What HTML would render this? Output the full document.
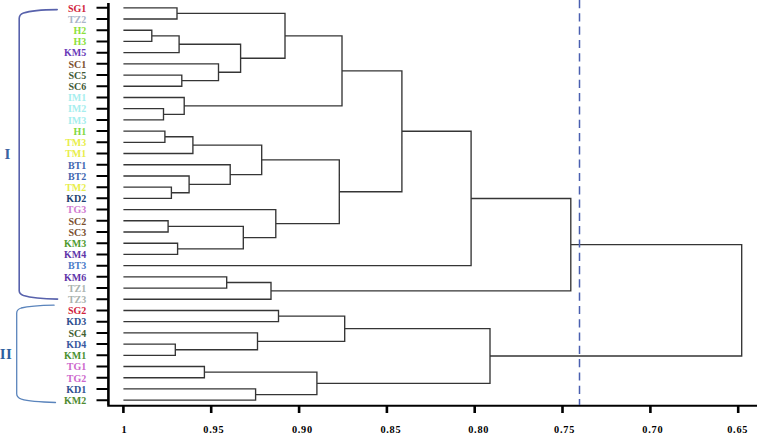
<!DOCTYPE html>
<html><head><meta charset="utf-8"><style>
html,body{margin:0;padding:0;background:#fff;}
body{width:759px;height:434px;overflow:hidden;position:relative;}
svg{position:absolute;left:0;top:0;}
.lab text{font-family:"Liberation Serif",serif;font-weight:bold;font-size:10px;text-anchor:end;}
.xl text{font-family:"Liberation Serif",serif;font-weight:bold;font-size:10.3px;letter-spacing:0.75px;fill:#000;}
.grp{font-family:"Liberation Serif",serif;font-weight:bold;font-size:15px;}
</style></head><body>
<svg width="759" height="434" viewBox="0 0 759 434">
<path d="M123.4 7.80H177.0V19.01H123.4M123.4 30.22H151.8V41.43H123.4M151.8 35.83H179.1V52.64H123.4M123.4 75.06H181.8V86.27H123.4M123.4 63.85H218.5V80.66H181.8M179.1 44.23H240.6V72.26H218.5M177.0 13.41H285.0V58.24H240.6M123.4 108.69H163.5V119.90H123.4M123.4 97.48H184.2V114.30H163.5M285.0 35.83H342.0V105.89H184.2M123.4 131.11H164.9V142.32H123.4M164.9 136.72H192.9V153.53H123.4M123.4 187.16H171.4V198.37H123.4M123.4 175.95H189.1V192.77H171.4M123.4 164.74H230.2V184.36H189.1M192.9 145.12H261.7V174.55H230.2M123.4 220.79H168.1V232.00H123.4M123.4 243.21H177.6V254.42H123.4M168.1 226.40H243.3V248.82H177.6M123.4 209.58H275.8V237.61H243.3M261.7 159.84H339.3V223.59H275.8M342.0 70.86H401.9V191.71H339.3M401.9 131.29H471.1V265.63H123.4M123.4 276.84H226.7V288.05H123.4M226.7 282.45H271.0V299.26H123.4M471.1 198.46H570.8V290.85H271.0M123.4 310.47H278.5V321.68H123.4M123.4 344.10H175.3V355.31H123.4M123.4 332.89H257.5V349.71H175.3M278.5 316.08H344.7V341.30H257.5M123.4 366.52H204.4V377.73H123.4M123.4 388.94H255.6V400.15H123.4M204.4 372.12H316.9V394.55H255.6M344.7 328.69H490.0V383.34H316.9M570.8 244.66H741.7V356.01H490.0" fill="none" stroke="#353535" stroke-width="1.35"/>
<path d="M108.4 3V405" fill="none" stroke="#000" stroke-width="2.6"/>
<path d="M107.2 405.8H757" fill="none" stroke="#000" stroke-width="2"/>
<path d="M96.5 7.80H108M96.5 19.01H108M96.5 30.22H108M96.5 41.43H108M96.5 52.64H108M96.5 63.85H108M96.5 75.06H108M96.5 86.27H108M96.5 97.48H108M96.5 108.69H108M96.5 119.90H108M96.5 131.11H108M96.5 142.32H108M96.5 153.53H108M96.5 164.74H108M96.5 175.95H108M96.5 187.16H108M96.5 198.37H108M96.5 209.58H108M96.5 220.79H108M96.5 232.00H108M96.5 243.21H108M96.5 254.42H108M96.5 265.63H108M96.5 276.84H108M96.5 288.05H108M96.5 299.26H108M96.5 310.47H108M96.5 321.68H108M96.5 332.89H108M96.5 344.10H108M96.5 355.31H108M96.5 366.52H108M96.5 377.73H108M96.5 388.94H108M96.5 400.15H108" fill="none" stroke="#000" stroke-width="2"/>
<path d="M123.4 406V413M211.2 406V413M299.1 406V413M386.9 406V413M474.7 406V413M562.5 406V413M650.4 406V413M738.2 406V413" fill="none" stroke="#000" stroke-width="2.6"/>
<path d="M579.5 0V405" fill="none" stroke="#4A5FB0" stroke-width="1.5" stroke-dasharray="8.2 5.1"/>
<path d="M57.2 9.6C44 9.7 30 10.8 23.5 13.1C20.3 14.3 19.2 15.8 19.2 18.5V290.8C19.2 293 20.4 294.3 23.5 295.5C31 297.8 45 298.9 57.6 299.1" fill="none" stroke="#5862AC" stroke-width="1.6" stroke-linecap="round"/>
<path d="M54.1 305.2C42 305.4 28 306.3 21.2 308C18 309 16.7 310.5 16.7 313.2V393.8C16.7 396.5 18 398 21.5 399.2C28 401.2 42 402.2 55.5 402.5" fill="none" stroke="#5A84BC" stroke-width="1.3" stroke-linecap="round"/>
<g class="lab">
<text x="86.3" y="11.60" fill="#D0213A">SG1</text>
<text x="86.3" y="22.81" fill="#A9B4C8">TZ2</text>
<text x="86.3" y="34.02" fill="#8BE03A">H2</text>
<text x="86.3" y="45.23" fill="#8BE03A">H3</text>
<text x="86.3" y="56.44" fill="#6A3AB8">KM5</text>
<text x="86.3" y="67.65" fill="#7B4F2E">SC1</text>
<text x="86.3" y="78.86" fill="#3F5A36">SC5</text>
<text x="86.3" y="90.07" fill="#3F5A36">SC6</text>
<text x="86.3" y="101.28" fill="#A6EEEE">IM1</text>
<text x="86.3" y="112.49" fill="#A6EEEE">IM2</text>
<text x="86.3" y="123.70" fill="#A6EEEE">IM3</text>
<text x="86.3" y="134.91" fill="#80D840">H1</text>
<text x="86.3" y="146.12" fill="#E8EE4A">TM3</text>
<text x="86.3" y="157.33" fill="#E8EE4A">TM1</text>
<text x="86.3" y="168.54" fill="#3F66B0">BT1</text>
<text x="86.3" y="179.75" fill="#3F66B0">BT2</text>
<text x="86.3" y="190.96" fill="#E8EE4A">TM2</text>
<text x="86.3" y="202.17" fill="#203F70">KD2</text>
<text x="86.3" y="213.38" fill="#D07AD0">TG3</text>
<text x="86.3" y="224.59" fill="#7B4F2E">SC2</text>
<text x="86.3" y="235.80" fill="#7B4F2E">SC3</text>
<text x="86.3" y="247.01" fill="#4F9A2E">KM3</text>
<text x="86.3" y="258.22" fill="#6034A8">KM4</text>
<text x="86.3" y="269.43" fill="#4A7BC8">BT3</text>
<text x="86.3" y="280.64" fill="#6034A8">KM6</text>
<text x="86.3" y="291.85" fill="#A9B3AE">TZ1</text>
<text x="86.3" y="303.06" fill="#A9B3AE">TZ3</text>
<text x="86.3" y="314.27" fill="#D0213A">SG2</text>
<text x="86.3" y="325.48" fill="#2F4F8F">KD3</text>
<text x="86.3" y="336.69" fill="#3F6030">SC4</text>
<text x="86.3" y="347.90" fill="#3858A0">KD4</text>
<text x="86.3" y="359.11" fill="#4A9030">KM1</text>
<text x="86.3" y="370.32" fill="#CC66CC">TG1</text>
<text x="86.3" y="381.53" fill="#CC66CC">TG2</text>
<text x="86.3" y="392.74" fill="#2F4F90">KD1</text>
<text x="86.3" y="403.95" fill="#4F8A30">KM2</text>
</g>
<g class="xl">
<text x="121.4" y="433.4">1</text>
<text x="203.3" y="433.4">0.95</text>
<text x="291.9" y="433.4">0.90</text>
<text x="380.4" y="433.4">0.85</text>
<text x="468.2" y="433.4">0.80</text>
<text x="554.1" y="433.4">0.75</text>
<text x="642.3" y="433.4">0.70</text>
<text x="727.2" y="433.4">0.65</text>
</g>
<text class="grp" x="4.5" y="159" fill="#3A62A0">I</text>
<text class="grp" x="-0.2" y="358.7" fill="#2D5F9F" letter-spacing="0.3">II</text>
</svg>
</body></html>
